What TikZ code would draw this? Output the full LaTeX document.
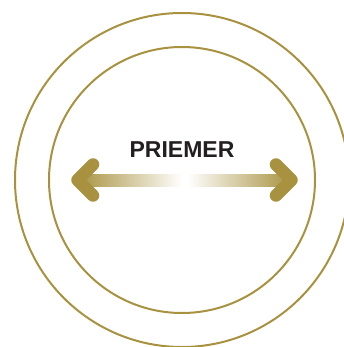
\documentclass[tikz,border=0pt]{standalone}
\usepackage{fontspec}
\setmainfont{Liberation Sans}
\usepackage{xcolor}
\usepackage{tikz}
\usetikzlibrary{shapes,arrows,positioning,fit,backgrounds}

\definecolor{gold}{RGB}{168,146,64}
\definecolor{ink}{RGB}{35,31,32}

\begin{document}
\begin{tikzpicture}[x=1pt,y=-1pt,
  ring/.style={draw=gold,line width=2pt,circle,inner sep=0pt},
  head/.style={draw=gold,line width=12.5pt,line cap=round,line join=round}]
\useasboundingbox (0,0) rectangle (344,347);
\node[ring,minimum size=334pt] (outer) at (182,180) {};
\node[ring,minimum size=266pt] (inner) at (outer.center) {};
\node[font=\bfseries\fontsize{23}{23}\selectfont,text=ink,anchor=base] (label) at (182,157.5) {PRIEMER};

% double arrow
\coordinate (ltip) at (77.5,180);
\coordinate (lend) at (182,180);
\coordinate (rtip) at (291.5,180);
\coordinate (rend) at (187,180);
\shade[left color=gold,right color=white] ([yshift=6pt]ltip) rectangle ([yshift=-6pt]lend);
\shade[left color=white,right color=gold] ([yshift=6pt]rend) rectangle ([yshift=-6pt]rtip);
\draw[head] ([xshift=15.5pt,yshift=15.5pt]ltip) -- (ltip) -- ([xshift=15.5pt,yshift=-15.5pt]ltip);
\draw[head] ([xshift=-15.5pt,yshift=15.5pt]rtip) -- (rtip) -- ([xshift=-15.5pt,yshift=-15.5pt]rtip);
\end{tikzpicture}
\end{document}
